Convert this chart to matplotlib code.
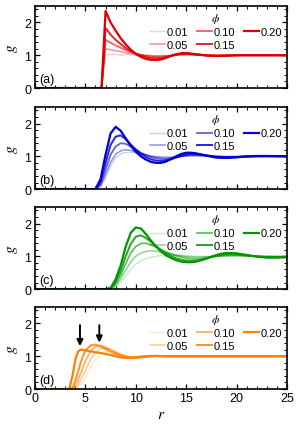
import matplotlib
matplotlib.use("Agg")
import matplotlib.pyplot as plt
from matplotlib.ticker import MultipleLocator

plt.rcParams['font.family'] = ['Liberation Sans', 'DejaVu Sans']
plt.rcParams['mathtext.fontset'] = 'stix'
plt.rcParams['font.size'] = 8

phi_labels = ['0.01', '0.05', '0.10', '0.15', '0.20']

# panel (a)
r_a = [0, 6.6, 7.0, 7.5, 8, 8.5, 9, 9.5, 10, 10.5, 11, 11.5, 12, 12.5, 13, 13.5,
       14, 14.5, 15, 15.5, 16, 17, 18, 19, 20, 22, 25]
g_a = [
    [0, 0, 1.00, 1.02, 1.03, 1.00, 1.03, 1.01, 0.99, 1.01, 0.99, 1.00, 0.98, 1.00,
     0.99, 1.00, 1.01, 1.00, 1.01, 1.00, 1.00, 1.00, 0.99, 1.00, 1.00, 1.00, 1.00],
    [0, 0, 1.20, 1.17, 1.14, 1.11, 1.08, 1.05, 1.03, 1.01, 0.995, 0.985, 0.98, 0.98,
     0.985, 0.995, 1.005, 1.015, 1.02, 1.015, 1.01, 1.00, 0.995, 1.00, 1.00, 1.00, 1.00],
    [0, 0, 1.47, 1.38, 1.30, 1.23, 1.16, 1.10, 1.05, 1.01, 0.98, 0.955, 0.945, 0.945,
     0.96, 0.985, 1.01, 1.03, 1.035, 1.03, 1.02, 1.00, 0.99, 0.995, 1.00, 1.00, 1.00],
    [0, 0, 1.83, 1.63, 1.47, 1.34, 1.22, 1.13, 1.05, 0.99, 0.94, 0.91, 0.90, 0.91,
     0.94, 0.98, 1.02, 1.045, 1.05, 1.04, 1.025, 0.995, 0.985, 0.99, 1.00, 1.00, 1.00],
    [0, 0, 2.35, 2.00, 1.75, 1.52, 1.33, 1.17, 1.04, 0.95, 0.89, 0.86, 0.855, 0.87,
     0.92, 0.98, 1.03, 1.06, 1.065, 1.05, 1.03, 0.99, 0.975, 0.985, 1.00, 1.00, 1.00],
]

# panel (b)
r_b = [0, 6.0, 6.5, 7, 7.5, 8, 8.5, 9, 9.5, 10, 10.5, 11, 11.5, 12, 12.5, 13, 13.5,
       14, 14.5, 15, 15.5, 16, 17, 18, 19, 20, 21, 22, 23, 25]
g_b = [
    [0, 0, 0.07, 0.35, 0.70, 0.95, 1.07, 1.12, 1.12, 1.10, 1.07, 1.04, 1.02, 1.00, 0.99,
     0.985, 0.985, 0.99, 1.00, 1.005, 1.01, 1.01, 1.005, 1.00, 1.00, 1.00, 1.00, 1.00, 1.00, 1.00],
    [0, 0, 0.10, 0.45, 0.82, 1.06, 1.17, 1.20, 1.18, 1.13, 1.08, 1.04, 1.00, 0.98, 0.965,
     0.96, 0.965, 0.98, 1.00, 1.015, 1.02, 1.02, 1.01, 1.00, 0.99, 0.99, 1.00, 1.00, 1.00, 1.00],
    [0, 0, 0.15, 0.60, 1.05, 1.30, 1.40, 1.38, 1.30, 1.20, 1.11, 1.04, 0.98, 0.94, 0.92,
     0.915, 0.93, 0.96, 1.00, 1.03, 1.045, 1.045, 1.025, 0.995, 0.98, 0.985, 0.995, 1.00, 1.00, 1.00],
    [0, 0, 0.22, 0.80, 1.35, 1.60, 1.64, 1.52, 1.36, 1.21, 1.08, 0.98, 0.91, 0.87, 0.86,
     0.87, 0.91, 0.97, 1.02, 1.06, 1.075, 1.07, 1.03, 0.98, 0.965, 0.975, 0.99, 1.00, 1.005, 1.00],
    [0, 0, 0.30, 1.05, 1.70, 1.90, 1.78, 1.55, 1.32, 1.14, 1.00, 0.90, 0.83, 0.80, 0.80,
     0.84, 0.92, 1.00, 1.07, 1.11, 1.11, 1.09, 1.02, 0.96, 0.95, 0.97, 1.00, 1.01, 1.01, 1.00],
]

# panel (c)
r_c = [0, 7.0, 7.5, 8, 8.5, 9, 9.5, 10, 10.5, 11, 11.5, 12, 12.5, 13, 13.5, 14, 14.5,
       15, 15.5, 16, 16.5, 17, 17.5, 18, 18.5, 19, 19.5, 20, 21, 22, 23, 24, 25]
g_c = [
    [0, 0, 0.01, 0.06, 0.20, 0.40, 0.60, 0.75, 0.86, 0.93, 0.97, 1.00, 1.02, 1.01, 1.03,
     1.01, 1.02, 1.00, 1.01, 0.995, 1.00, 1.00, 0.99, 1.00, 1.00, 1.00, 1.00, 1.00, 1.00,
     1.00, 1.00, 1.00, 1.00],
    [0, 0, 0.02, 0.10, 0.30, 0.57, 0.83, 1.00, 1.10, 1.15, 1.17, 1.16, 1.13, 1.10, 1.07,
     1.04, 1.02, 1.00, 0.99, 0.98, 0.98, 0.985, 0.99, 1.00, 1.01, 1.015, 1.02, 1.02, 1.01,
     1.00, 1.00, 0.995, 1.00],
    [0, 0, 0.02, 0.15, 0.42, 0.78, 1.10, 1.30, 1.39, 1.40, 1.35, 1.28, 1.20, 1.13, 1.07,
     1.02, 0.98, 0.95, 0.93, 0.925, 0.93, 0.95, 0.975, 1.00, 1.02, 1.035, 1.04, 1.04, 1.02,
     1.00, 0.99, 0.985, 0.99],
    [0, 0, 0.02, 0.22, 0.55, 1.00, 1.38, 1.60, 1.64, 1.56, 1.44, 1.31, 1.19, 1.09, 1.01,
     0.94, 0.90, 0.87, 0.865, 0.87, 0.90, 0.94, 0.98, 1.02, 1.05, 1.065, 1.07, 1.065, 1.03,
     0.995, 0.975, 0.975, 0.98],
    [0, 0, 0.03, 0.30, 0.72, 1.30, 1.72, 1.88, 1.85, 1.68, 1.48, 1.30, 1.15, 1.03, 0.95,
     0.88, 0.84, 0.82, 0.82, 0.84, 0.88, 0.93, 0.99, 1.04, 1.08, 1.10, 1.10, 1.09, 1.04,
     0.99, 0.96, 0.96, 0.97],
]

# panel (d)
r_d = [0, 3.4, 3.75, 4.0, 4.25, 4.5, 4.75, 5.0, 5.5, 6.0, 6.5, 7.0, 7.5, 8.0, 8.5, 9.0,
       9.5, 10, 10.5, 11, 11.5, 12, 13, 14, 15, 20, 25]
g_d = [
    [0, 0, 0.0, 0.01, 0.05, 0.12, 0.22, 0.35, 0.65, 0.90, 1.06, 1.14, 1.15, 1.11, 1.06,
     1.02, 0.99, 0.975, 0.975, 0.985, 0.995, 1.00, 1.00, 1.00, 1.00, 1.00, 1.00],
    [0, 0, 0.0, 0.04, 0.12, 0.25, 0.40, 0.57, 0.90, 1.12, 1.23, 1.25, 1.20, 1.13, 1.06,
     1.01, 0.97, 0.96, 0.965, 0.98, 0.995, 1.00, 1.00, 1.00, 1.00, 1.00, 1.00],
    [0, 0, 0.01, 0.10, 0.25, 0.45, 0.65, 0.85, 1.15, 1.30, 1.33, 1.28, 1.20, 1.12, 1.05,
     0.99, 0.96, 0.955, 0.965, 0.985, 1.00, 1.005, 1.00, 1.00, 1.00, 1.00, 1.00],
    [0, 0, 0.05, 0.25, 0.50, 0.78, 1.00, 1.17, 1.33, 1.36, 1.30, 1.22, 1.14, 1.07, 1.01,
     0.97, 0.95, 0.955, 0.97, 0.99, 1.00, 1.01, 1.00, 1.00, 1.00, 1.00, 1.00],
    [0, 0, 0.45, 0.90, 1.13, 1.20, 1.20, 1.18, 1.15, 1.12, 1.10, 1.07, 1.04, 1.00, 0.97,
     0.95, 0.955, 0.97, 0.99, 1.00, 1.01, 1.01, 1.00, 1.00, 1.00, 1.00, 1.00],
]

arrow_r = [4.46, 6.38]
arrow_g = [1.31, 1.42]

panels = [
    (r_a, g_a, '#dc0000', '(a)', 0.7935),
    (r_b, g_b, '#0000d2', '(b)', 0.559),
    (r_c, g_c, '#009600', '(c)', 0.327),
    (r_d, g_d, '#ff8000', '(d)', 0.0951),
]
alphas = [0.2, 0.42, 0.62, 0.83, 1.0]
widths = [1.0, 1.15, 1.3, 1.45, 1.6]

fig = plt.figure(figsize=(3.0, 4.31), dpi=100)
for i, (r, gs, col, lab, bot) in enumerate(panels):
    ax = fig.add_axes([0.1167, bot, 0.84, 0.19])
    for g, a, w, l in zip(gs, alphas, widths, phi_labels):
        ax.plot(r, g, color=col, alpha=a, lw=w, label=l)
    ax.set_xlim(0, 25)
    ax.set_ylim(0, 2.5)
    ax.xaxis.set_major_locator(MultipleLocator(5))
    ax.xaxis.set_minor_locator(MultipleLocator(1))
    ax.yaxis.set_major_locator(MultipleLocator(1))
    ax.yaxis.set_minor_locator(MultipleLocator(0.2))
    ax.tick_params(which='both', direction='in', top=True, right=True, labelsize=9, pad=2.5)
    ax.tick_params(which='major', length=3.5, width=0.9)
    ax.tick_params(which='minor', length=2, width=0.7)
    for s in ax.spines.values():
        s.set_linewidth(1.2)
    ax.set_ylabel('$g$', fontsize=11, labelpad=3)
    ax.text(0.015, 0.04, lab, transform=ax.transAxes, fontsize=9, ha='left', va='bottom')
    leg = ax.legend(loc='upper right', ncol=3, title='$\\phi$', frameon=False,
                    fontsize=8, title_fontsize=8.5, handlelength=1.4, handletextpad=0.1,
                    columnspacing=0.8, labelspacing=0.2, borderaxespad=0.3,
                    borderpad=0.15)
    if i < 3:
        ax.tick_params(labelbottom=False)
    else:
        ax.set_xlabel('$r$', fontsize=11, labelpad=2)
        for ar, ag in zip(arrow_r, arrow_g):
            ax.annotate('', xy=(ar, ag), xytext=(ar, 1.95),
                        arrowprops=dict(arrowstyle='-|>', color='black', lw=1.4,
                                        mutation_scale=9, shrinkA=0, shrinkB=0))

fig.savefig('out.png', dpi=100)
